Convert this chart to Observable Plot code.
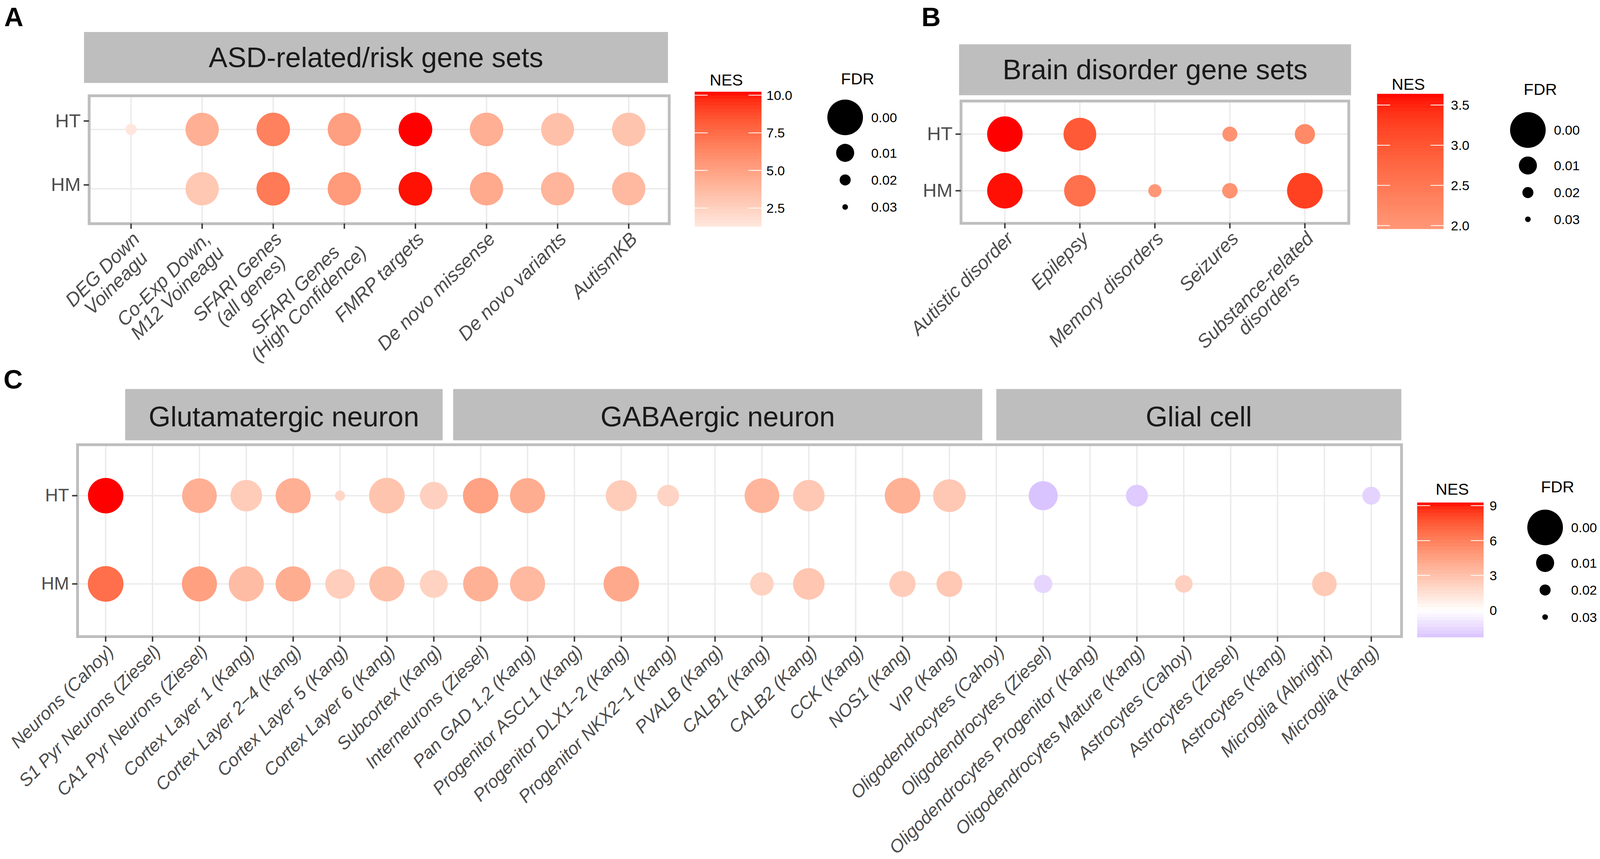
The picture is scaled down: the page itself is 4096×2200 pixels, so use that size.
<!DOCTYPE html>
<html><head><meta charset="utf-8">
<script src="https://cdn.jsdelivr.net/npm/d3@7"></script>
<script src="https://cdn.jsdelivr.net/npm/@observablehq/plot@0.6"></script>
<style>
html,body{margin:0;padding:0;background:#fff;}
#root{position:relative;width:4096px;height:2200px;overflow:hidden;background:#fff;}
</style></head><body><div id="root"></div>
<script>
// ---------------- DATA ----------------
const groups = ["HT", "HM"];
const fdrBreaks = [0.00, 0.01, 0.02, 0.03];
const panelLetters = ["A", "B", "C"];

// Panel A: ASD-related/risk gene sets
const stripA = ["ASD-related/risk gene sets"];
const asdSets = ["DEG Down\nVoineagu", "Co-Exp Down,\nM12 Voineagu", "SFARI Genes\n(all genes)", "SFARI Genes\n(High Confidence)", "FMRP targets", "De novo missense", "De novo variants", "AutismKB"];
const asdNES_HT = [1.29, 4.3, 6.6, 5.1, 10.23, 4.3, 3.4, 3.2];
const asdFDR_HT = [0.0197, 0.0013, 0.0012, 0.0013, 0.0011, 0.0012, 0.0015, 0.0012];
const asdNES_HM = [null, 3.0, 6.9, 5.4, 10.1, 4.6, 4.0, 3.8];
const asdFDR_HM = [null, 0.0013, 0.0012, 0.0013, 0.0011, 0.0013, 0.0013, 0.0013];
const asdNESTicks = [2.5, 5.0, 7.5, 10.0];

// Panel B: Brain disorder gene sets
const stripB = ["Brain disorder gene sets"];
const brainSets = ["Autistic disorder", "Epilepsy", "Memory disorders", "Seizures", "Substance-related\ndisorders"];
const brainNES_HT = [3.64, 2.95, null, 2.05, 2.2];
const brainFDR_HT = [0.0001, 0.0016, null, 0.0144, 0.0088];
const brainNES_HM = [3.6, 2.6, 1.96, 2.05, 3.25];
const brainFDR_HM = [0.0001, 0.0023, 0.017, 0.0137, 0.0];
const brainNESTicks = [2.0, 2.5, 3.0, 3.5];

// Panel C: cell-type gene sets
const stripC = ["Glutamatergic neuron", "GABAergic neuron", "Glial cell"];
const cellSets = ["Neurons (Cahoy)", "S1 Pyr Neurons (Ziesel)", "CA1 Pyr Neurons (Ziesel)", "Cortex Layer 1 (Kang)", "Cortex Layer 2\u22124 (Kang)", "Cortex Layer 5 (Kang)", "Cortex Layer 6 (Kang)", "Subcortex (Kang)", "Interneurons (Ziesel)", "Pan GAD 1,2 (Kang)", "Progenitor ASCL1 (Kang)", "Progenitor DLX1\u22122 (Kang)", "Progenitor NKX2\u22121 (Kang)", "PVALB (Kang)", "CALB1 (Kang)", "CALB2 (Kang)", "CCK (Kang)", "NOS1 (Kang)", "VIP (Kang)", "Oligodendrocytes (Cahoy)", "Oligodendrocytes (Ziesel)", "Oligodendrocytes Progenitor (Kang)", "Oligodendrocytes Mature (Kang)", "Astrocytes (Cahoy)", "Astrocytes (Ziesel)", "Astrocytes (Kang)", "Microglia (Albright)", "Microglia (Kang)"];
const cellNES_HT = [9.27, null, 3.9, 2.5, 3.9, 2.0, 2.9, 2.3, 4.5, 4.0, null, 2.5, 2.1, null, 3.6, 2.7, null, 3.8, 2.7, null, -2.3, null, -2.0, null, null, null, null, -1.7];
const cellFDR_HT = [0.0001, null, 0.0005, 0.0023, 0.0003, 0.0216, 0.0, 0.0045, 0.0001, 0.0003, null, 0.0026, 0.0079, null, 0.0005, 0.0023, null, 0.0, 0.0016, null, 0.0037, null, 0.0078, null, null, null, null, 0.0102];
const cellNES_HM = [6.7, null, 4.6, 3.3, 4.0, 2.4, 3.1, 2.2, 3.8, 3.4, null, 4.2, null, null, 2.2, 2.8, null, 2.5, 2.7, null, -1.6, null, null, 2.3, null, null, 2.6, null];
const cellFDR_HM = [0.0, null, 0.0003, 0.0003, 0.0003, 0.0034, 0.0003, 0.0044, 0.0003, 0.0003, null, 0.0001, null, null, 0.0069, 0.0023, null, 0.0054, 0.0055, null, 0.0098, null, null, 0.0107, null, null, 0.0063, null];
const cellNESTicks = [0, 3, 6, 9];

// ---------------- LAYOUT / STYLE (reference px, scaled by S) ----------------
const S = 0.9;
const FONT = '"Liberation Sans", Arial, Helvetica, sans-serif';
const LETTER_FONT = '"Liberation Sans Narrow", "Arial Narrow", "Liberation Sans", Arial, sans-serif';
const RADII = [50.7, 25.7, 15.7, 8.0];
const GRID = "#ebebeb", BORDER = "#bebebe", STRIP = "#bebebe";
const LEG_FS = 34, LEG_TITLE_FS = 41.5, STRIP_FS = 72, LETTER_FS = 68;

const L = {
  A: {box: {x: 0, y: 240, w: 1960, h: 800}, frame: {x0: 253, x1: 1903, y0: 272, y1: 636},
      xr: [370, 1791], yr: [368, 537], yDy: {HT: -24, HM: -11}, fs: 49,
      strips: [{x0: 239, x1: 1900, y0: 91, y1: 236, base: 191}],
      letter: {x: 12, y: 74},
      nes: {x0: 1976, x1: 2166, y0: 261, y1: 644, labelX: 2180, titleX: 2066, titleY: 243, fmt: ".1f"},
      fdr: {cx: 2404, cys: [334, 435, 512, 589], labelX: 2478, titleX: 2392, titleY: 240}},
  B: {box: {x: 2500, y: 240, w: 1400, h: 800}, frame: {x0: 2733, x1: 3836, y0: 287, y1: 635},
      xr: [2858, 3712], yr: [381, 543], yDy: null, fs: 49,
      strips: [{x0: 2728, x1: 3843, y0: 126, y1: 271, base: 226}],
      letter: {x: 2621, y: 74},
      nes: {x0: 3917, x1: 4106, y0: 267, y1: 651, labelX: 4127, titleX: 4006, titleY: 255, fmt: ".1f"},
      fdr: {cx: 4346, cys: [370, 471, 548, 624], labelX: 4420, titleX: 4334, titleY: 270}},
  C: {box: {x: 0, y: 1240, w: 4020, h: 1204}, frame: {x0: 220, x1: 3986, y0: 1265, y1: 1811},
      xr: [293, 3908], yr: [1410, 1662], yDy: null, fs: 46,
      strips: [{x0: 356, x1: 1259, y0: 1107, y1: 1253, base: 1213},
               {x0: 1289, x1: 2794, y0: 1107, y1: 1253, base: 1213},
               {x0: 2834, x1: 3986, y0: 1107, y1: 1253, base: 1213}],
      letter: {x: 10, y: 1105},
      nes: {x0: 4031, x1: 4220, y0: 1430, y1: 1813, labelX: 4237, titleX: 4131, titleY: 1408, fmt: "d"},
      fdr: {cx: 4395, cys: [1501, 1602, 1679, 1756], labelX: 4469, titleX: 4383, titleY: 1401}}
};

function toRows(sets, nesHT, fdrHT, nesHM, fdrHM) {
  const out = [];
  sets.forEach((s, i) => {
    if (nesHT[i] != null) out.push({set: s, group: "HT", NES: nesHT[i], FDR: fdrHT[i]});
    if (nesHM[i] != null) out.push({set: s, group: "HM", NES: nesHM[i], FDR: fdrHM[i]});
  });
  return out;
}

const root = d3.select("#root");

function buildPanel(lay, sets, data) {
  const b = lay.box, f = lay.frame;
  const M = d3.max(data, d => Math.abs(d.NES));
  const axisStyle = {label: null, tickSize: 15 * S, tickPadding: 9 * S, fontSize: lay.fs,
                     fill: "#4d4d4d", stroke: "#333333", strokeWidth: 4 * S};
  const yAxes = lay.yDy
    ? groups.map(g => Plot.axisY([g], {...axisStyle, dy: lay.yDy[g] * S}))
    : [Plot.axisY(axisStyle)];
  const plot = Plot.plot({
    width: b.w * S, height: b.h * S,
    marginLeft: (f.x0 - b.x) * S, marginRight: (b.x + b.w - f.x1) * S,
    marginTop: (f.y0 - b.y) * S, marginBottom: (b.y + b.h - f.y1) * S,
    style: {background: "transparent", fontFamily: FONT, fontSize: lay.fs + "px", overflow: "visible"},
    x: {type: "point", padding: 0, domain: sets, range: [(lay.xr[0] - b.x) * S, (lay.xr[1] - b.x) * S]},
    y: {type: "point", padding: 0, domain: groups, range: [(lay.yr[0] - b.y) * S, (lay.yr[1] - b.y) * S]},
    r: {type: "linear", domain: fdrBreaks, range: RADII.map(v => v * S)},
    color: {type: "linear", domain: [-M, 0, M], range: ["blue", "white", "red"], interpolate: "lab"},
    marks: [
      Plot.gridX({stroke: GRID, strokeOpacity: 1, strokeWidth: 4 * S}),
      Plot.gridY({stroke: GRID, strokeOpacity: 1, strokeWidth: 4 * S}),
      Plot.dot(data, {x: "set", y: "group", r: "FDR", fill: "NES"}),
      Plot.frame({stroke: BORDER, strokeWidth: 8 * S}),
      Plot.axisX({...axisStyle, tickFormat: () => ""}),
      ...yAxes
    ]
  });
  d3.select(plot).style("position", "absolute").style("left", (b.x * S) + "px").style("top", (b.y * S) + "px");
  root.node().appendChild(plot);

  // rotated, multi-line category labels placed through the x scale
  const xs = plot.scale("x");
  const fs = lay.fs;
  const g = d3.select(plot).append("g")
    .attr("font-family", FONT).attr("font-size", fs).attr("font-style", "italic").attr("fill", "#4d4d4d");
  const y0 = (f.y1 - b.y + 19) * S;
  sets.forEach(s => {
    const lines = s.split("\n");
    const gg = g.append("g").attr("transform", `translate(${xs.apply(s)},${y0}) rotate(-45)`);
    const ts = lines.map((ln, k) => gg.append("text").attr("text-anchor", "middle")
      .attr("y", fs * (0.74 + k * 1.0)).text(ln));
    const W = d3.max(ts, t => t.node().getComputedTextLength());
    ts.forEach(t => t.attr("x", -W / 2));
  });
  return plot;
}

const dataA = toRows(asdSets, asdNES_HT, asdFDR_HT, asdNES_HM, asdFDR_HM);
const dataB = toRows(brainSets, brainNES_HT, brainFDR_HT, brainNES_HM, brainFDR_HM);
const dataC = toRows(cellSets, cellNES_HT, cellFDR_HT, cellNES_HM, cellFDR_HM);

const plotA = buildPanel(L.A, asdSets, dataA);
const plotB = buildPanel(L.B, brainSets, dataB);
const plotC = buildPanel(L.C, cellSets, dataC);

// ---------------- overlay: strips, letters, legends ----------------
const over = root.append("svg").attr("width", 4096).attr("height", 2200)
  .style("position", "absolute").style("left", 0).style("top", 0).attr("font-family", FONT);

function strips(lay, labels) {
  lay.strips.forEach((st, i) => {
    over.append("rect").attr("x", st.x0 * S).attr("y", st.y0 * S)
      .attr("width", (st.x1 - st.x0) * S).attr("height", (st.y1 - st.y0) * S).attr("fill", STRIP);
    over.append("text").attr("x", (st.x0 + st.x1) / 2 * S).attr("y", st.base * S)
      .attr("text-anchor", "middle").attr("font-size", STRIP_FS).attr("fill", "#1a1a1a").text(labels[i]);
  });
}
strips(L.A, stripA); strips(L.B, stripB); strips(L.C, stripC);

[L.A, L.B, L.C].forEach((lay, i) => {
  over.append("text").attr("x", lay.letter.x * S).attr("y", lay.letter.y * S)
    .attr("font-family", LETTER_FONT)
    .attr("font-size", LETTER_FS).attr("font-weight", "bold").attr("fill", "#000").text(panelLetters[i]);
});

function colorbar(plot, data, ticks, lay) {
  const n = lay.nes;
  const cs = plot.scale("color");
  const [lo, hi] = d3.extent(data, d => d.NES);
  const yv = d3.scaleLinear([lo, hi], [n.y1 * S, n.y0 * S]);
  const nb = 40;
  const g = over.append("g");
  for (let k = 0; k < nb; k++) {
    const v0 = lo + (hi - lo) * k / nb, v1 = lo + (hi - lo) * (k + 1) / nb;
    g.append("rect").attr("x", n.x0 * S).attr("width", (n.x1 - n.x0) * S)
      .attr("y", yv(v1)).attr("height", yv(v0) - yv(v1) + 0.7).attr("fill", cs.apply((v0 + v1) / 2));
  }
  const fmt = d3.format(n.fmt);
  const tl = 37 * S;
  ticks.forEach(t => {
    const y = yv(t);
    g.append("line").attr("x1", n.x0 * S).attr("x2", n.x0 * S + tl).attr("y1", y).attr("y2", y).attr("stroke", "white").attr("stroke-width", 2);
    g.append("line").attr("x1", n.x1 * S - tl).attr("x2", n.x1 * S).attr("y1", y).attr("y2", y).attr("stroke", "white").attr("stroke-width", 2);
    g.append("text").attr("x", n.labelX * S).attr("y", y).attr("dy", "0.36em")
      .attr("font-size", LEG_FS).attr("fill", "#000").text(fmt(t));
  });
  g.append("text").attr("x", n.titleX * S).attr("y", n.titleY * S).attr("text-anchor", "middle")
    .attr("font-size", LEG_TITLE_FS).attr("fill", "#000").text("NES");
}

function sizeLegend(plot, lay) {
  const fd = lay.fdr;
  const rs = plot.scale("r");
  const g = over.append("g");
  g.append("text").attr("x", fd.titleX * S).attr("y", fd.titleY * S)
    .attr("font-size", LEG_TITLE_FS).attr("fill", "#000").text("FDR");
  const fmt = d3.format(".2f");
  fdrBreaks.forEach((v, i) => {
    g.append("circle").attr("cx", fd.cx * S).attr("cy", fd.cys[i] * S).attr("r", rs.apply(v)).attr("fill", "#000");
    g.append("text").attr("x", fd.labelX * S).attr("y", fd.cys[i] * S).attr("dy", "0.36em")
      .attr("font-size", LEG_FS).attr("fill", "#000").text(fmt(v));
  });
}

colorbar(plotA, dataA, asdNESTicks, L.A);
colorbar(plotB, dataB, brainNESTicks, L.B);
colorbar(plotC, dataC, cellNESTicks, L.C);
sizeLegend(plotA, L.A);
sizeLegend(plotB, L.B);
sizeLegend(plotC, L.C);
</script>
</body></html>
